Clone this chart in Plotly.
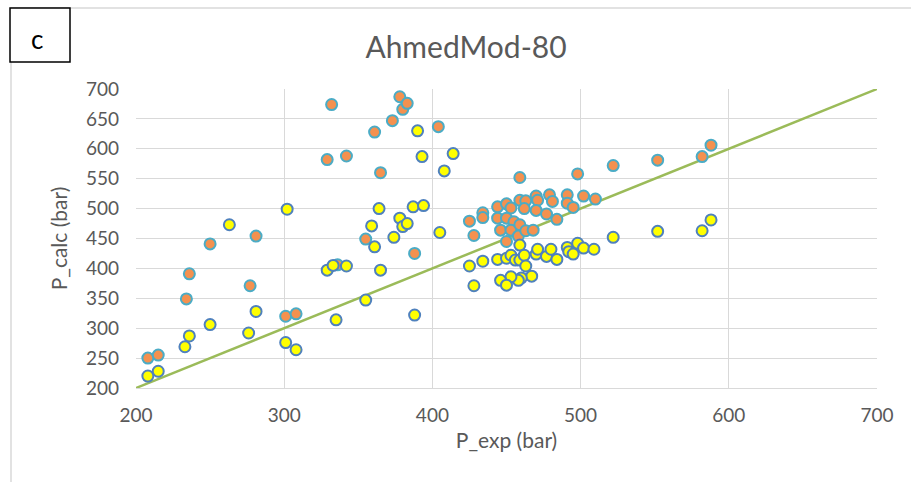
import plotly.graph_objects as go

orange_x = [208, 215, 234, 236, 250, 277, 281, 301, 308,
            329, 332, 342, 355, 336, 361, 365, 373, 378, 380, 383, 388, 404,
            425, 428, 434, 434, 444, 444, 446, 450, 450, 453, 450, 455, 453, 458, 459, 463, 459, 463,
            462, 468, 470, 471, 470, 477, 479, 481, 484, 491, 491, 495, 502, 510,
            459, 498, 522, 552, 582, 588]
orange_y = [250, 255, 349, 391, 441, 371, 454, 320, 324,
            582, 674, 588, 449, 406, 628, 560, 647, 687, 666, 676, 425, 637,
            479, 455, 493, 485, 503, 484, 464, 445, 508, 501, 484, 478, 464, 454, 514, 513, 473, 463,
            500, 464, 521, 514, 497, 491, 523, 512, 482, 523, 509, 502, 521, 516,
            552, 558, 572, 581, 587, 606]

yellow_x = [208, 215, 233, 236, 250, 263, 276, 281, 301, 302, 308,
            329, 333, 342, 335, 355, 359, 361, 364, 365, 374, 378, 380, 383, 387, 388, 390, 393, 394, 405, 408, 414,
            425, 428, 434, 444, 450, 453, 456, 459, 459, 462, 463, 467, 460, 458, 453, 446, 450,
            470, 471, 477, 480, 484, 491, 492, 495, 498, 502, 509, 522, 552, 582, 588]
yellow_y = [220, 228, 269, 287, 306, 473, 292, 328, 276, 499, 264,
            397, 405, 404, 314, 347, 471, 436, 500, 397, 452, 484, 470, 475, 503, 322, 630, 587, 505, 460, 563, 592,
            404, 371, 412, 415, 417, 422, 414, 439, 414, 422, 404, 387, 384, 380, 386, 380, 372,
            424, 432, 420, 432, 415, 435, 428, 424, 442, 434, 432, 452, 462, 463, 481]

line_x = [200, 700]
line_y = [200, 700]

FONT = "Lato"
GREY = "#595959"

fig = go.Figure()
fig.add_trace(go.Scatter(x=line_x, y=line_y, mode="lines",
                         line=dict(color="#9BBB59", width=2.5), showlegend=False, hoverinfo="skip"))
fig.add_trace(go.Scatter(x=orange_x, y=orange_y, mode="markers", showlegend=False,
                         marker=dict(size=11, color="#F4914F",
                                     line=dict(color="#4BACC6", width=2))))
fig.add_trace(go.Scatter(x=yellow_x, y=yellow_y, mode="markers", showlegend=False,
                         marker=dict(size=11, color="#FFFF00",
                                     line=dict(color="#4F81BD", width=2))))

L, R, T, B = 136, 34, 89, 94
W, H = 911, 482
pw, ph = W - L - R, H - T - B

def px(xp):
    return (xp - L) / pw

def py(yp):
    return 1 - (yp - T) / ph

fig.update_layout(
    width=W, height=H,
    margin=dict(l=L, r=R, t=T, b=B),
    paper_bgcolor="white", plot_bgcolor="white",
    font=dict(family=FONT, color=GREY),
    title=dict(text="AhmedMod-80", xref="container", x=466 / W, xanchor="center",
               yref="container", y=1 - 47 / H, yanchor="middle",
               font=dict(size=30, color=GREY, family=FONT)),
    xaxis=dict(range=[200, 700], dtick=100, showgrid=True, gridcolor="#D9D9D9", gridwidth=1,
               zeroline=False, showline=True, linecolor="#D9D9D9", linewidth=1,
               ticks="", ticklabelstandoff=10, tickfont=dict(size=19, color=GREY, family=FONT),
               title=dict(text="P_exp (bar)", font=dict(size=21, color=GREY, family=FONT), standoff=8)),
    yaxis=dict(range=[200, 700], dtick=50, showgrid=True, gridcolor="#D9D9D9", gridwidth=1,
               zeroline=False, showline=False, ticks="", ticklabelstandoff=16,
               tickfont=dict(size=19, color=GREY, family=FONT),
               title=dict(text="P_calc (bar)", font=dict(size=21, color=GREY, family=FONT), standoff=12)),
    shapes=[
        dict(type="rect", xref="paper", yref="paper", x0=px(11), x1=px(W + 20), y0=py(H + 20), y1=py(8),
             line=dict(color="#D9D9D9", width=1.5), fillcolor="rgba(0,0,0,0)", layer="below"),
        dict(type="rect", xref="paper", yref="paper", x0=px(10), x1=px(70), y0=py(62), y1=py(8),
             line=dict(color="black", width=1.5), fillcolor="white"),
    ],
    annotations=[
        dict(text="c", xref="paper", yref="paper", x=px(37), y=py(39), showarrow=False,
             font=dict(size=26, color="black", family=FONT), xanchor="center", yanchor="middle"),
    ],
)

fig.write_html("out.html")
